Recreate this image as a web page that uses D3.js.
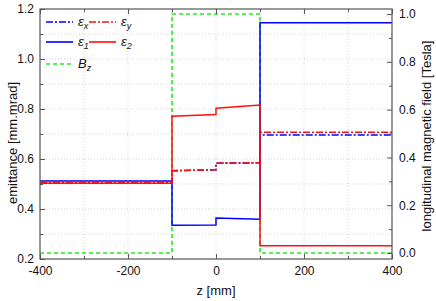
<!DOCTYPE html>
<html>
<head>
<meta charset="utf-8">
<script src="https://cdn.jsdelivr.net/npm/d3@7"></script>
<style>
  body { margin: 0; background: #fff; }
  text { font-family: Arial, "Liberation Sans", sans-serif; fill: #111; }
</style>
</head>
<body>
<svg id="chart" width="436" height="301"></svg>
<script>
// ---------------- data ----------------
var zSteps   = [-400, -100, -100, 0, 0, 100, 100, 400];
var epsX     = [0.505, 0.505, 0.553, 0.557, 0.583, 0.585, 0.696, 0.696];
var epsY     = [0.505, 0.505, 0.553, 0.557, 0.583, 0.585, 0.707, 0.707];
var eps1     = [0.512, 0.512, 0.335, 0.336, 0.364, 0.359, 1.145, 1.145];
var eps2     = [0.503, 0.503, 0.771, 0.778, 0.803, 0.816, 0.253, 0.253];
var zField   = [-400, -100, -100, 100, 100, 400];
var bzValues = [0, 0, 1, 1, 0, 0];

var xTicks      = [-400, -200, 0, 200, 400];
var yLeftTicks  = [0.2, 0.4, 0.6, 0.8, 1.0, 1.2];
var yRightTicks = [0.0, 0.2, 0.4, 0.6, 0.8, 1.0];

// ---------------- layout ----------------
var margin = {left: 40, right: 44, top: 9, bottom: 42};
var width = 436 - margin.left - margin.right;   // 352
var height = 301 - margin.top - margin.bottom;  // 250

var svg = d3.select("#chart");
var g = svg.append("g").attr("transform", "translate(" + margin.left + "," + margin.top + ")");

var xScale = d3.scaleLinear().domain([-400, 400]).range([0, width]);
var yScale = d3.scaleLinear().domain([0.2, 1.2]).range([height, 0]);
var yRight = d3.scaleLinear().domain([-0.025, 1.021]).range([height, 0]);

// grid, every minor step
var gridX = d3.range(-300, 400, 100);
var gridY = d3.range(0.3, 1.19, 0.1);
g.selectAll(".gx").data(gridX).enter().append("line")
    .attr("x1", function(d) { return xScale(d); })
    .attr("x2", function(d) { return xScale(d); })
    .attr("y1", 0).attr("y2", height)
    .style("stroke", "#d4d4d4").style("stroke-dasharray", "1,2");
g.selectAll(".gy").data(gridY).enter().append("line")
    .attr("x1", 0).attr("x2", width)
    .attr("y1", function(d) { return yScale(d); })
    .attr("y2", function(d) { return yScale(d); })
    .style("stroke", "#d4d4d4").style("stroke-dasharray", "1,2");

// ---------------- series ----------------
function stepLine(xs, ys, scaleY) {
  return d3.line()
      .x(function(d, i) { return xScale(xs[i]); })
      .y(function(d) { return scaleY(d); })(ys);
}

var series = [
  {xs: zField, ys: bzValues, sy: yRight, color: "#22ee22", dash: "4,3", w: 1.6},
  {xs: zSteps, ys: epsX, sy: yScale, color: "#0000ff", dash: "7,2,2,2", w: 1.6},
  {xs: zSteps, ys: epsY, sy: yScale, color: "#ff1010", dash: "7,2,2,2", w: 1.6},
  {xs: zSteps, ys: eps1, sy: yScale, color: "#0000ff", dash: null, w: 1.5},
  {xs: zSteps, ys: eps2, sy: yScale, color: "#ff1010", dash: null, w: 1.5}
];

series.forEach(function(s) {
  g.append("path")
      .attr("d", stepLine(s.xs, s.ys, s.sy))
      .style("fill", "none")
      .style("stroke", s.color)
      .style("stroke-width", s.w)
      .style("stroke-dasharray", s.dash);
});

// ---------------- axes (ticks pointing inward) ----------------
var frameColor = "#555";

function styleAxis(sel) {
  sel.select(".domain").remove();
  sel.selectAll(".tick line").style("stroke", frameColor);
  sel.selectAll(".tick text").style("font-size", "12px").style("fill", "#111");
}

// plain hyphen for negatives, like the original
function intFmt(d) { return String(d); }

// bottom
g.append("g").attr("transform", "translate(0," + height + ")")
    .call(d3.axisBottom(xScale).tickValues(xTicks).tickSizeInner(-5).tickSizeOuter(0).tickPadding(7)
      .tickFormat(intFmt))
    .call(styleAxis);
g.append("g").attr("transform", "translate(0," + height + ")")
    .call(d3.axisBottom(xScale).tickValues([-300, -100, 100, 300]).tickSize(-3).tickFormat(""))
    .call(styleAxis);

// top
g.append("g").call(d3.axisTop(xScale).tickValues(xTicks).tickSize(-5).tickFormat("")).call(styleAxis);
g.append("g").call(d3.axisTop(xScale).tickValues([-300, -100, 100, 300]).tickSize(-3).tickFormat("")).call(styleAxis);

// left
g.append("g").call(d3.axisLeft(yScale).tickValues(yLeftTicks).tickSizeInner(-5).tickSizeOuter(0).tickPadding(6)
    .tickFormat(d3.format(".1f"))).call(styleAxis);
g.append("g").call(d3.axisLeft(yScale).tickValues([0.3, 0.5, 0.7, 0.9, 1.1]).tickSize(-3).tickFormat("")).call(styleAxis);

// right
g.append("g").attr("transform", "translate(" + width + ",0)")
    .call(d3.axisRight(yRight).tickValues(yRightTicks).tickSizeInner(-5).tickSizeOuter(0).tickPadding(7)
      .tickFormat(d3.format(".1f"))).call(styleAxis);
g.append("g").attr("transform", "translate(" + width + ",0)")
    .call(d3.axisRight(yRight).tickValues([0.1, 0.3, 0.5, 0.7, 0.9]).tickSize(-3).tickFormat("")).call(styleAxis);

// frame
g.append("rect").attr("x", 0).attr("y", 0).attr("width", width).attr("height", height)
    .style("fill", "none").style("stroke", frameColor).style("stroke-width", 1.2);

// ---------------- axis titles ----------------
svg.append("text")
    .attr("transform", "translate(" + 17 + "," + 143 + ") rotate(-90)")
    .attr("text-anchor", "middle")
    .style("font-size", "13px")
    .text("emittance [mm.mrad]");

svg.append("text")
    .attr("x", margin.left + width / 2)
    .attr("y", 295)
    .attr("text-anchor", "middle")
    .style("font-size", "13px")
    .text("z [mm]");

svg.append("text")
    .attr("transform", "translate(" + 431 + "," + 136 + ") rotate(-90)")
    .attr("text-anchor", "middle")
    .style("font-size", "13px")
    .text("longitudinal magnetic field [Tesla]");

// ---------------- legend ----------------
var legendItems = [
  {x: 6,  y: 13, color: "#0000ff", dash: "7,2,2,2", sym: "\u03B5", sub: "x"},
  {x: 49, y: 13, color: "#ff1010", dash: "7,2,2,2", sym: "\u03B5", sub: "y"},
  {x: 6,  y: 33, color: "#0000ff", dash: null, sym: "\u03B5", sub: "1"},
  {x: 49, y: 33, color: "#ff1010", dash: null, sym: "\u03B5", sub: "2"},
  {x: 6,  y: 55, color: "#22ee22", dash: "4,3", sym: "B", sub: "z"}
];

var legend = g.append("g");
legendItems.forEach(function(d) {
  legend.append("line")
      .attr("x1", d.x).attr("x2", d.x + 27)
      .attr("y1", d.y).attr("y2", d.y)
      .style("stroke", d.color).style("stroke-width", 1.6)
      .style("stroke-dasharray", d.dash);
  var t = legend.append("text")
      .attr("x", d.x + 32).attr("y", d.y + 4)
      .style("font-size", "13px").style("font-style", "italic");
  t.append("tspan").text(d.sym);
  t.append("tspan").attr("dy", 3).style("font-size", "9px").text(d.sub);
});
</script>
</body>
</html>
